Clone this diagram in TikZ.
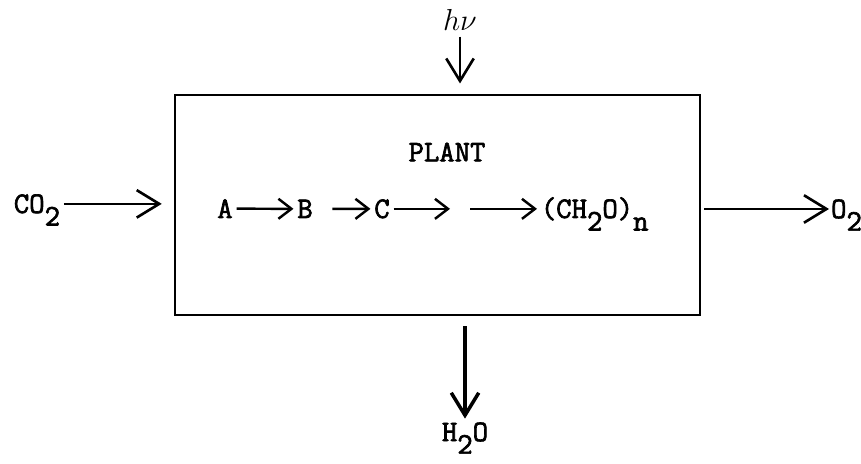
\documentclass[tikz,border=0pt]{standalone}
\usepackage{fontspec}
\setmonofont{Latin Modern Mono}[AutoFakeBold=2.2]
\usetikzlibrary{arrows.meta}
\newcommand{\subtt}[1]{\raisebox{-0.42em}[0pt][0pt]{#1}}

\begin{document}
\begin{tikzpicture}[font=\fontsize{17}{20}\selectfont\ttfamily\bfseries,
    >={Straight Barb[length=4.5mm,width=5.5mm]},
    flow/.style={->, line width=1.5pt},
    rxn/.style={-{Straight Barb[length=2.6mm,width=4mm]}, line width=1.4pt},
    chem/.style={inner sep=2pt}]
  \useasboundingbox (0,0) rectangle (17.22,9.28);
  % the plant as a closed box
  \node[draw, line width=1.1pt, minimum width=10.5cm, minimum height=4.4cm, inner sep=0pt]
    (plant) at (8.75,5.18) {};
  \node (title) at (8.94,6.24) {PLANT};
  % the chain inside
  \node[chem, anchor=base] (A) at (4.5,4.92) {A};
  \node[chem, anchor=base] (B) at (6.1,4.92) {B};
  \node[chem, anchor=base] (C) at (7.64,4.92) {C};
  \node[chem, anchor=base west] (ch2o) at (10.74,4.92) {(CH\subtt{2}O)\subtt{n}};
  \coordinate (gapL) at (9.0,0 |- C.east);
  \coordinate (gapR) at (9.4,0 |- C.east);
  \draw[rxn] (A) -- (B);
  \draw[rxn, shorten <=9pt] (B) -- (C);
  \draw[rxn] (C) -- (gapL);
  \draw[rxn] (gapR) -- (ch2o.west |- gapR);
  % what goes in and what comes out
  \node[chem, anchor=base west] (co2) at (0.2,5.02) {CO\subtt{2}};
  \node[inner sep=1pt, anchor=west] (o2) at (16.58,5.1) {O\subtt{2}};
  \node[font=\fontsize{19}{22}\selectfont] (hv) at (9.2,8.88) {$h\nu$};
  \node[chem] (h2o) at (9.3,0.64) {H\subtt{2}O};
  \draw[flow, shorten >=7pt] (co2.east) -- (co2.east -| plant.west);
  \draw[flow, shorten <=2pt] (plant.east |- o2.west) -- (o2.west);
  \draw[flow, shorten >=6pt] (hv.south) -- (hv.south |- plant.north);
  \draw[flow, line width=2pt, shorten <=6pt] (plant.south -| h2o.north) -- (h2o.north);
\end{tikzpicture}
\end{document}
